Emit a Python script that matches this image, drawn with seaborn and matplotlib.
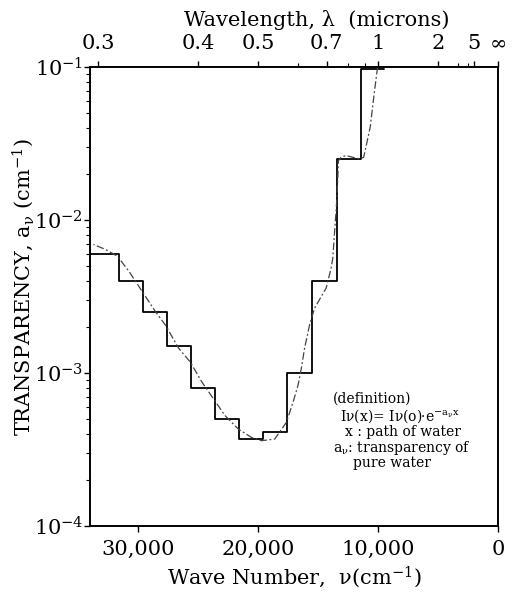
import numpy as np
import pandas as pd
import matplotlib
matplotlib.use("Agg")
import matplotlib.pyplot as plt
from matplotlib.ticker import FixedLocator, LogLocator, NullFormatter
import seaborn as sns

# band-averaged transparency (solid steps): lower edge of each band, cm^-1
band_lower_edge = [9500, 11400, 13400, 15500, 17600, 19600,
                   21600, 23600, 25600, 27600, 29600, 31600]
band_level = [9.7e-2, 2.5e-2, 4.0e-3, 1.0e-3, 4.1e-4, 3.7e-4,
              5.0e-4, 8.0e-4, 1.5e-3, 2.5e-3, 4.0e-3, 6.0e-3]
band_last_edge = 34000

# smooth (dashed) curve
curve_nu = [10050, 10331, 10663, 11019, 11209, 11574, 12121, 12676, 13090,
            13314, 13363, 13421, 13504, 13645, 13778, 13919, 14333, 15302,
            15717, 16131, 16404, 16678, 17092, 17647, 18616, 19718, 20547,
            21649, 22759, 23720, 24689, 25659, 26620, 27730, 28558, 29661,
            30763, 31732, 32700, 33720]
curve_a = [1.0e-1, 6.7e-2, 4.05e-2, 3.0e-2, 2.57e-2, 2.51e-2, 2.57e-2, 2.64e-2,
           2.57e-2, 2.44e-2, 1.9e-2, 1.48e-2, 1.15e-2, 8.1e-3, 5.65e-3, 4.86e-3,
           3.59e-3, 2.65e-3, 2.06e-3, 1.45e-3, 1.07e-3, 8.3e-4, 6.44e-4, 4.76e-4,
           3.70e-4, 3.61e-4, 3.79e-4, 4.30e-4, 5.27e-4, 6.78e-4, 8.73e-4, 1.18e-3,
           1.45e-3, 2.06e-3, 2.52e-3, 3.41e-3, 4.62e-3, 5.80e-3, 6.41e-3, 6.92e-3]

# axis ticks
nu_ticks = [30000, 20000, 10000, 0]
nu_labels = ["30,000", "20,000", "10,000", "0"]
wl_major = [0.3, 0.4, 0.5, 0.7, 1, 2, 5]
wl_labels = ["0.3", "0.4", "0.5", "0.7", "1", "2", "5"]
wl_minor = [0.6, 0.8, 0.9, 3, 4]
y_ticks = [1e-4, 1e-3, 1e-2, 1e-1]
y_labels = ["10$^{-4}$", "10$^{-3}$", "10$^{-2}$", "10$^{-1}$"]

sns.set_style("ticks")
plt.rcParams["font.family"] = ["DejaVu Serif"]
plt.rcParams["mathtext.fontset"] = "dejavuserif"
plt.rcParams["mathtext.default"] = "regular"
for key in ["text.color", "axes.labelcolor", "xtick.color", "ytick.color",
            "axes.edgecolor"]:
    plt.rcParams[key] = "black"

steps = pd.DataFrame({"nu": band_lower_edge + [band_last_edge],
                      "a": band_level + [band_level[-1]]})
curve = pd.DataFrame({"nu": curve_nu, "a": curve_a})

fig = plt.figure(figsize=(5.30, 5.94), dpi=100)
ax = fig.add_axes([0.170, 0.1145, 0.770, 0.7727])

sns.lineplot(data=steps, x="nu", y="a", ax=ax, color="black", lw=1.3,
             drawstyle="steps-post", sort=False, estimator=None)
sns.lineplot(data=curve, x="nu", y="a", ax=ax, color="#444444", lw=0.9,
             linestyle=(0, (6, 2, 1.5, 2)), sort=False, estimator=None)

ax.set_yscale("log")
ax.set_ylim(1e-4, 1e-1)
ax.set_xlim(34000, 0)

ax.set_xticks(nu_ticks)
ax.set_xticklabels(nu_labels, fontsize=15)
ax.set_yticks(y_ticks)
ax.set_yticklabels(y_labels, fontsize=15)
ax.yaxis.set_minor_locator(LogLocator(base=10, subs=np.arange(2, 10)))
ax.yaxis.set_minor_formatter(NullFormatter())
ax.tick_params(axis="x", which="major", length=4, width=1, pad=6)
ax.tick_params(axis="y", which="major", length=4, width=1, pad=1)
ax.tick_params(axis="y", which="minor", length=3, width=0.8)

ax.set_xlabel("Wave Number,  ν(cm$^{-1}$)", fontsize=15, labelpad=4)
ax.set_ylabel("TRANSPARENCY, a$_{ν}$ (cm$^{-1}$)", fontsize=15)
ax.yaxis.set_label_coords(-0.132, 0.52)

for side in ["top", "bottom", "left", "right"]:
    ax.spines[side].set_visible(True)
    ax.spines[side].set_linewidth(1.2)
    ax.spines[side].set_color("black")

# wavelength axis on top: lambda (microns) = 1e4 / nu
top = ax.twiny()
top.set_xlim(ax.get_xlim())
top.xaxis.set_major_locator(FixedLocator([1e4 / w for w in wl_major] + [0]))
top.set_xticklabels(wl_labels + ["∞"], fontsize=15)
top.xaxis.set_minor_locator(FixedLocator([1e4 / w for w in wl_minor]))
top.tick_params(axis="x", which="major", length=4, width=1, pad=6)
top.tick_params(axis="x", which="minor", length=3, width=0.8)
top.set_xlabel("Wavelength, λ  (microns)", fontsize=15)
top.xaxis.set_label_coords(0.556, 1.09)
for side in ["top", "bottom", "left", "right"]:
    top.spines[side].set_linewidth(1.2)

# definition note
note_kw = dict(transform=ax.transAxes, fontsize=10, va="center", ha="left")
ax.text(0.596, 0.277, "(definition)", **note_kw)
ax.text(0.613, 0.240, "Iν(x)= Iν(o)·e$^{-a_{ν}x}$", **note_kw)
ax.text(0.625, 0.205, "x : path of water", **note_kw)
ax.text(0.596, 0.170, "a$_{ν}$: transparency of", **note_kw)
ax.text(0.645, 0.137, "pure water", **note_kw)

fig.savefig("out.png", dpi=100)
